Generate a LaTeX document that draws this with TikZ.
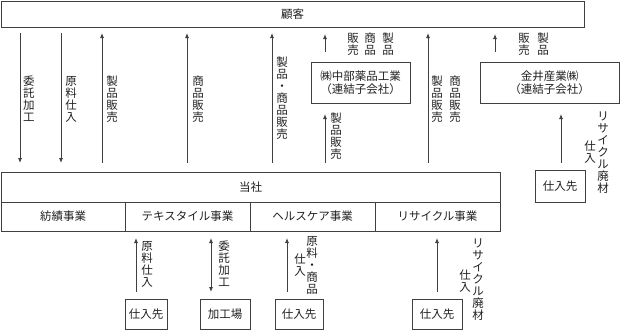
\documentclass[tikz,border=0pt]{standalone}
\usepackage{fontspec}
\setmainfont{Noto Sans CJK JP}
\usetikzlibrary{arrows.meta}
\definecolor{ln}{HTML}{404040}
\definecolor{tx}{HTML}{202020}
\begin{document}
\begin{tikzpicture}[x=1pt,y=-1pt,
  every node/.style={text=tx,font=\fontsize{11.5}{12}\selectfont,inner sep=0pt},
  box/.style={draw=ln,line width=0.8pt},
  two/.style={align=center,font=\fontsize{11.5}{13}\selectfont},
  vt/.style={align=center},
  arr/.style={draw=ln,line width=0.8pt,-{Latex[length=5pt,width=4pt]}},
  darr/.style={draw=ln,line width=0.8pt,{Latex[length=5pt,width=4pt]}-{Latex[length=5pt,width=4pt]}}]
\useasboundingbox (0,0) rectangle (621,330);

% boxes
\node[box,minimum width=583pt,minimum height=26pt] (kokyaku) at (292.5,14) {顧客};
\node[box,two,minimum width=99pt,minimum height=41pt] (chubu) at (360.5,82.5) {㈱中部薬品工業\\（連結子会社）};
\node[box,two,minimum width=139pt,minimum height=41pt] (kanai) at (549.5,82.5) {金井産業㈱\\（連結子会社）};
\node[box,minimum width=499pt,minimum height=30pt] (tousha) at (250.5,187) {当社};
\node[box,minimum width=124pt,minimum height=29pt] (s1) at (63,216.5) {紡績事業};
\node[box,minimum width=125pt,minimum height=29pt] (s2) at (187.5,216.5) {テキスタイル事業};
\node[box,minimum width=125pt,minimum height=29pt] (s3) at (312.5,216.5) {ヘルスケア事業};
\node[box,minimum width=125pt,minimum height=29pt] (s4) at (437.5,216.5) {リサイクル事業};
\node[box,minimum width=50pt,minimum height=32pt] (sup0) at (560,186) {仕入先};
\node[box,minimum width=42pt,minimum height=30pt] (sup1) at (146,314) {仕入先};
\node[box,minimum width=50pt,minimum height=30pt] (kako) at (225,314) {加工場};
\node[box,minimum width=48pt,minimum height=30pt] (sup2) at (299,314) {仕入先};
\node[box,minimum width=50pt,minimum height=30pt] (sup3) at (437,314) {仕入先};

% arrow end points
\coordinate (a1t) at (20,33);   \coordinate (a1b) at (20,163);
\coordinate (a2t) at (61,33);   \coordinate (a2b) at (61,163);
\coordinate (a3t) at (102,33);  \coordinate (a3b) at (102,163);
\coordinate (a4t) at (187,33);  \coordinate (a4b) at (187,163);
\coordinate (a5t) at (272,33);  \coordinate (a5b) at (272,163);
\coordinate (a6t) at (325,34);  \coordinate (a6b) at (325,52);
\coordinate (a7t) at (325,114); \coordinate (a7b) at (325,163);
\coordinate (a8t) at (428,33);  \coordinate (a8b) at (428,163);
\coordinate (a9t) at (495,34);  \coordinate (a9b) at (495,52);
\coordinate (a10t) at (561,114); \coordinate (a10b) at (561,163);
\coordinate (b1t) at (136,238); \coordinate (b1b) at (136,292);
\coordinate (b2t) at (211,238); \coordinate (b2b) at (211,292);
\coordinate (b3t) at (287,238); \coordinate (b3b) at (287,292);
\coordinate (b4t) at (437,238); \coordinate (b4b) at (437,292);

\draw[arr] (a1t) -- (a1b);
\draw[arr] (a2t) -- (a2b);
\draw[arr] (a3b) -- (a3t);
\draw[arr] (a4b) -- (a4t);
\draw[arr] (a5b) -- (a5t);
\draw[arr] (a6b) -- (a6t);
\draw[arr] (a7b) -- (a7t);
\draw[arr] (a8b) -- (a8t);
\draw[arr] (a9b) -- (a9t);
\draw[arr] (a10b) -- (a10t);
\draw[arr] (b1b) -- (b1t);
\draw[darr] (b2t) -- (b2b);
\draw[arr] (b3b) -- (b3t);
\draw[arr] (b4b) -- (b4t);

% labels
\node[vt] (l1) at (29,99) {委\\託\\加\\工};
\node[vt] (l2) at (71,99) {原\\料\\仕\\入};
\node[vt] (l3) at (112,99) {製\\品\\販\\売};
\node[vt] (l4) at (198,99) {商\\品\\販\\売};
\node[vt] (l5) at (282,98) {製\\品\\・\\商\\品\\販\\売};
\node[vt] (l6a) at (353,44) {販\\売};
\node[vt] (l6b) at (370,44) {商\\品};
\node[vt] (l6c) at (388,44) {製\\品};
\node[vt] (l7) at (336,136) {製\\品\\販\\売};
\node[vt] (l8a) at (437,99) {製\\品\\販\\売};
\node[vt] (l8b) at (455,99) {商\\品\\販\\売};
\node[vt] (l9a) at (524,44) {販\\売};
\node[vt] (l9b) at (543,44) {製\\品};
\node[vt] (l10a) at (590,152) {仕\\入};
\node[vt] (l10b) at (603,153) {リ\\サ\\イ\\ク\\ル\\廃\\材};
\node[vt] (m1) at (147,264) {原\\料\\仕\\入};
\node[vt] (m2) at (224,264) {委\\託\\加\\工};
\node[vt] (m3a) at (300,265) {仕\\入};
\node[vt] (m3b) at (312,265) {原\\料\\・\\商\\品};
\node[vt] (m4a) at (465,281) {仕\\入};
\node[vt] (m4b) at (478,280) {リ\\サ\\イ\\ク\\ル\\廃\\材};
\end{tikzpicture}
\end{document}
